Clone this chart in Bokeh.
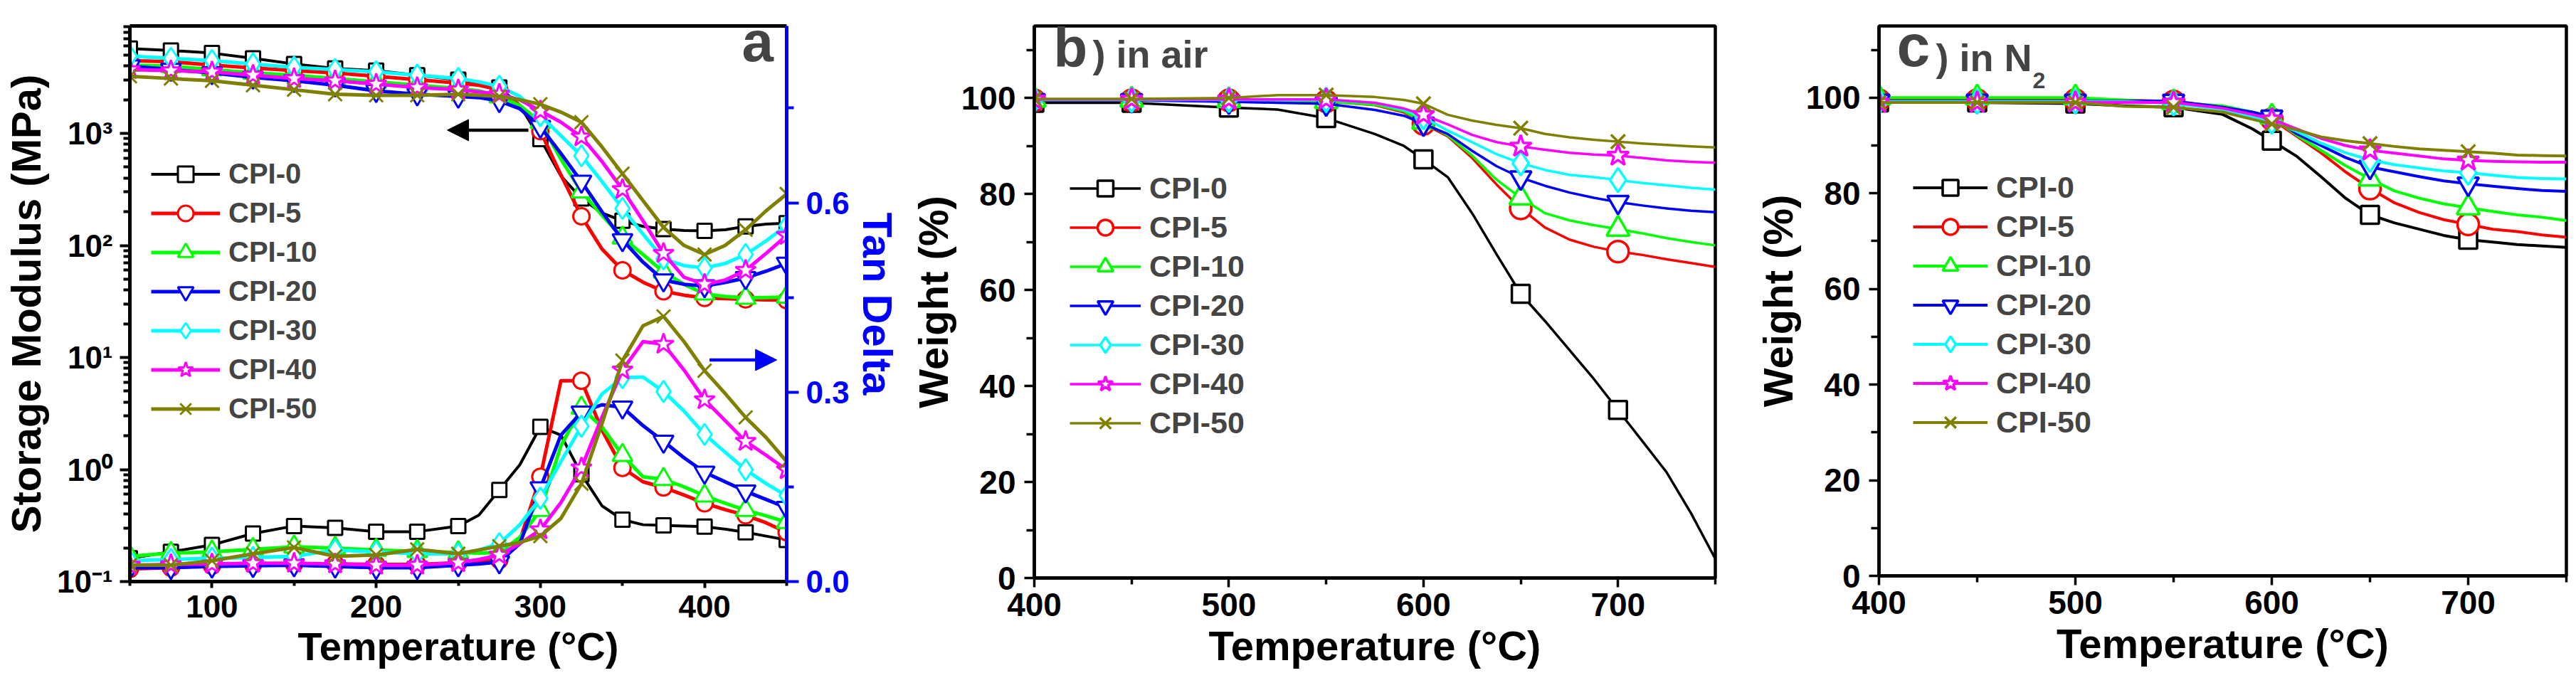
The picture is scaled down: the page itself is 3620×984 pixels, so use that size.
from bokeh.plotting import figure
from bokeh.layouts import row
from bokeh.models import (Range1d, LinearAxis, LinearScale, FixedTicker, Legend, LegendItem,
                          Label, Arrow, NormalHead, CustomJSTickFormatter, NumeralTickFormatter)
from bokeh.embed import file_html
from bokeh.resources import INLINE

FONT = "Liberation Sans"

names = ["CPI-0", "CPI-5", "CPI-10", "CPI-20", "CPI-30", "CPI-40", "CPI-50"]
colors = ["black", "#ff0000", "#00ff00", "#0000ff", "#00ffff", "#ff00ff", "#808000"]
markers = ["square", "circle", "triangle", "inverted_triangle", "diamond", "star", "x"]

# ---- panel a : DMA ----
temp_dma = [50, 75, 100, 125, 150, 175, 200, 225, 250, 262.5, 275, 287.5, 300, 312.5,
            325, 337.5, 350, 362.5, 375, 387.5, 400, 412.5, 425, 437.5, 450]

mod_cpi0 = [5715, 5495, 5212, 4677, 4169, 3802, 3631, 3311, 3020, 2818, 2570, 1778, 891, 417,
            263, 195, 166, 148, 140, 136, 135, 138, 148, 155, 158]
mod_cpi5 = [4467, 4365, 4074, 3846, 3631, 3467, 3236, 3020, 2818, 2692, 2455, 1778, 1047, 427,
            182, 93, 60, 47, 39, 36, 34, 33.5, 33, 32.7, 32.4]
mod_cpi10 = [4074, 3981, 3715, 3467, 3311, 3090, 2884, 2692, 2512, 2399, 2138, 1778, 1259, 589,
             302, 186, 117, 83, 58, 45, 37, 35, 34, 34.3, 34.7]
mod_cpi20 = [3981, 3715, 3467, 3162, 2951, 2692, 2399, 2239, 2138, 2089, 1950, 1660, 1148, 661,
             372, 200, 112, 71, 49, 45, 43.4, 46.8, 51.3, 58.9, 69.2]
mod_cpi30 = [4898, 4677, 4467, 4169, 3890, 3715, 3548, 3311, 3090, 2884, 2630, 2138, 1445, 955,
             631, 372, 214, 126, 76, 66, 63, 69, 83, 110, 151]
mod_cpi40 = [3715, 3631, 3548, 3311, 3090, 2951, 2754, 2570, 2455, 2344, 2239, 1995, 1585, 1259,
             933, 562, 316, 166, 85, 52, 45, 49, 60, 85, 123]
mod_cpi50 = [3236, 3090, 2951, 2692, 2455, 2239, 2188, 2188, 2239, 2188, 2138, 1995, 1820, 1549,
             1259, 759, 437, 251, 145, 100, 83, 100, 138, 204, 288]

tan_cpi0 = [0.037, 0.047, 0.058, 0.076, 0.088, 0.085, 0.079, 0.079, 0.088, 0.105, 0.145, 0.185,
            0.245, 0.232, 0.17, 0.12, 0.098, 0.09, 0.089, 0.088, 0.087, 0.083, 0.078, 0.072, 0.066]
tan_cpi5 = [0.02, 0.022, 0.025, 0.027, 0.028, 0.028, 0.027, 0.027, 0.03, 0.032, 0.034, 0.065,
            0.166, 0.318, 0.318, 0.24, 0.18, 0.158, 0.149, 0.137, 0.124, 0.114, 0.105, 0.093, 0.078]
tan_cpi10 = [0.04, 0.045, 0.047, 0.051, 0.055, 0.053, 0.05, 0.048, 0.046, 0.045, 0.046, 0.07,
             0.113, 0.215, 0.275, 0.245, 0.2, 0.166, 0.162, 0.15, 0.136, 0.124, 0.113, 0.104, 0.094]
tan_cpi20 = [0.022, 0.022, 0.024, 0.025, 0.026, 0.024, 0.022, 0.022, 0.026, 0.028, 0.031, 0.06,
             0.148, 0.232, 0.268, 0.28, 0.276, 0.247, 0.222, 0.196, 0.173, 0.158, 0.143, 0.13, 0.117]
tan_cpi30 = [0.033, 0.035, 0.037, 0.038, 0.04, 0.05, 0.047, 0.044, 0.044, 0.05, 0.06, 0.09,
             0.132, 0.19, 0.246, 0.297, 0.323, 0.324, 0.301, 0.27, 0.233, 0.205, 0.177, 0.155, 0.136]
tan_cpi40 = [0.026, 0.027, 0.028, 0.029, 0.029, 0.028, 0.026, 0.026, 0.03, 0.035, 0.042, 0.06,
             0.082, 0.125, 0.18, 0.26, 0.335, 0.38, 0.376, 0.335, 0.288, 0.255, 0.222, 0.2, 0.177]
tan_cpi50 = [0.026, 0.026, 0.033, 0.044, 0.054, 0.04, 0.042, 0.051, 0.044, 0.05, 0.056, 0.062,
             0.072, 0.1, 0.155, 0.25, 0.35, 0.405, 0.42, 0.38, 0.334, 0.298, 0.26, 0.228, 0.19]

# ---- panels b, c : TGA ----
temp_tga = [400, 450, 500, 525, 550, 575, 590, 600, 612.5, 625, 637.5, 650, 662.5, 675,
            687.5, 700, 712.5, 725, 737.5, 750]

air_cpi0 = [99, 99, 98, 97.6, 95.8, 92.5, 90, 87.2, 83.5, 76, 67.5, 59.2, 53.5, 47.5, 41.5, 35, 28.5, 22, 13.5, 4]
air_cpi5 = [99.5, 99.5, 99.5, 99.5, 99.3, 98.5, 97, 94.6, 92, 87.5, 82, 77, 73, 70.5, 69, 68, 67.3, 66.4, 65.6, 64.8]
air_cpi10 = [99.6, 99.6, 99.5, 99.5, 99.3, 98.6, 97.2, 95, 92.2, 88, 83, 79.2, 76, 74.5, 73.5, 72.7, 71.8, 70.8, 70, 69.3]
air_cpi20 = [99.5, 99.5, 99.2, 99, 98.8, 97.5, 96.3, 94.6, 92.5, 89, 85.8, 83.4, 81.7, 80.3, 79.2, 78.3, 77.6, 77, 76.5, 76.2]
air_cpi30 = [99.6, 99.6, 99.6, 99.6, 99.6, 99, 97.5, 96, 93.2, 90.8, 88.3, 86.4, 85, 84, 83.5, 82.9, 82.3, 81.8, 81.3, 80.9]
air_cpi40 = [99.7, 99.7, 99.7, 99.7, 99.7, 99, 97.8, 96.5, 94.5, 92.3, 90.8, 89.9, 89.2, 88.6, 88.2, 88, 87.5, 87, 86.7, 86.5]
air_cpi50 = [99.8, 99.8, 100, 100.6, 100.6, 100.2, 99.6, 98.8, 96.5, 95.3, 94.4, 93.7, 92.5, 91.8, 91.3, 90.9, 90.5, 90.2, 89.9, 89.7]

n2_cpi0 = [99, 99, 98.8, 98.3, 98, 96.5, 93.5, 91, 87.8, 83.5, 79, 75.5, 73.8, 72.5, 71.2, 70.3, 69.8, 69.3, 69, 68.7]
n2_cpi5 = [99.5, 99.5, 99.5, 99.5, 99.2, 98, 96.5, 95.5, 92, 88.5, 84.5, 81, 78, 76, 74.5, 73.5, 72.5, 72, 71.3, 70.8]
n2_cpi10 = [100, 100, 100, 99.5, 99, 98.3, 97, 96, 92.2, 89, 85.8, 83, 80.5, 79, 77.8, 77, 76.2, 75.5, 75, 74.3]
n2_cpi20 = [99.3, 99.3, 99.3, 99.3, 99.3, 98, 97, 96, 92.5, 90, 87.5, 85.5, 84.5, 83.5, 82.6, 82, 81.5, 81, 80.6, 80.4]
n2_cpi30 = [99.2, 99.2, 99.2, 99.2, 98.8, 97.5, 96, 95, 93, 90.5, 88.5, 87, 86, 85.3, 84.7, 84.3, 83.8, 83.3, 83.1, 83]
n2_cpi40 = [99, 99, 99, 99, 99, 97.8, 96.5, 95.5, 93.5, 91.5, 90, 89, 88.4, 87.8, 87.2, 86.9, 86.7, 86.6, 86.5, 86.5]
n2_cpi50 = [99, 99, 99, 98.2, 98, 97, 95.5, 94.5, 93.3, 91.8, 91, 90.4, 89.8, 89.3, 89, 88.7, 88.4, 88, 87.9, 87.8]

modulus = [mod_cpi0, mod_cpi5, mod_cpi10, mod_cpi20, mod_cpi30, mod_cpi40, mod_cpi50]
tandelta = [tan_cpi0, tan_cpi5, tan_cpi10, tan_cpi20, tan_cpi30, tan_cpi40, tan_cpi50]
air = [air_cpi0, air_cpi5, air_cpi10, air_cpi20, air_cpi30, air_cpi40, air_cpi50]
nitrogen = [n2_cpi0, n2_cpi5, n2_cpi10, n2_cpi20, n2_cpi30, n2_cpi40, n2_cpi50]


def make_fig(xr, yr, fw, fh, left, right, top, bottom, log=False):
    kw = dict(frame_width=fw, frame_height=fh, min_border_left=left, min_border_right=right,
              min_border_top=top, min_border_bottom=bottom, x_range=Range1d(*xr),
              y_range=Range1d(*yr), output_backend="svg", toolbar_location=None)
    if log:
        kw["y_axis_type"] = "log"
    p = figure(**kw)
    p.grid.visible = False
    p.background_fill_color = "white"
    p.border_fill_color = "white"
    return p


def style_axis(ax, lsize, tsize, tick_out, minor_out, lw, color="black", lstand=8, tstand=6):
    ax.axis_line_color = color
    ax.axis_line_width = lw
    ax.major_tick_line_color = color
    ax.minor_tick_line_color = color
    ax.major_tick_line_width = lw - 1
    ax.minor_tick_line_width = lw - 1
    ax.major_tick_in = 0
    ax.minor_tick_in = 0
    ax.major_tick_out = tick_out
    ax.minor_tick_out = minor_out
    ax.major_label_text_font = FONT
    ax.major_label_text_font_style = "bold"
    ax.major_label_text_font_size = f"{lsize}px"
    ax.major_label_text_color = color
    ax.major_label_standoff = lstand
    ax.axis_label_text_font = FONT
    ax.axis_label_text_font_style = "bold"
    ax.axis_label_text_font_size = f"{tsize}px"
    ax.axis_label_text_color = color
    ax.axis_label_standoff = tstand


def add_legend(p, items, loc, gw, size):
    # legend markers are drawn at 0.4 x glyph box, so a tall box with no spacing
    leg = Legend(items=items, location=loc, glyph_width=gw, glyph_height=55, label_height=55,
                 spacing=0, padding=0, margin=0, border_line_color=None,
                 background_fill_alpha=0, label_text_font=FONT, label_text_font_style="bold",
                 label_text_font_size=f"{size}px", label_standoff=12)
    p.add_layout(leg)


# ================= panel a =================
pa = make_fig((50, 450), (0.1, 9100), 923, 781, 179, 170, 28, 160, log=True)
pa.outline_line_color = None
pa.extra_y_ranges = {"tan": Range1d(0, 0.88)}
pa.extra_y_scales = {"tan": LinearScale()}

sizes_a = [20, 23, 28, 28, 30, 30, 27]
items_a = []
for i in range(7):
    lw = 4 if i == 0 else 5
    ml = pa.line(temp_dma, modulus[i], line_color=colors[i], line_width=lw, line_join="round")
    pa.line(temp_dma, tandelta[i], line_color=colors[i], line_width=lw, line_join="round",
            y_range_name="tan")
    mt = [t for t in temp_dma if t % 25 == 0]
    mm = [v for t, v in zip(temp_dma, modulus[i]) if t % 25 == 0]
    md = [v for t, v in zip(temp_dma, tandelta[i]) if t % 25 == 0]
    ms = pa.scatter(mt, mm, marker=markers[i], size=sizes_a[i],
                    line_color=colors[i], fill_color="white", line_width=3)
    pa.scatter(mt, md, marker=markers[i], size=sizes_a[i],
               line_color=colors[i], fill_color="white", line_width=3, y_range_name="tan")
    items_a.append(LegendItem(label=names[i], renderers=[ml, ms]))

xa = pa.xaxis[0]
style_axis(xa, 44, 56, 9, 6, 5, lstand=10, tstand=6)
xa.ticker = FixedTicker(ticks=[100, 200, 300, 400], minor_ticks=[50, 150, 250, 350, 450])
xa.axis_label = "Temperature (°C)"

ya = pa.yaxis[0]
style_axis(ya, 44, 58, 14, 9, 5, lstand=10, tstand=8)
ya.ticker = FixedTicker(ticks=[0.1, 1, 10, 100, 1000],
                        minor_ticks=[k * 10.0 ** e for e in range(-1, 4) for k in range(2, 10)])
ya.formatter = CustomJSTickFormatter(code="""
const e = Math.round(Math.log10(tick));
const sup = {"-1": "\u207b\u00b9", "0": "\u2070", "1": "\u00b9", "2": "\u00b2", "3": "\u00b3"};
return "10" + sup[String(e)];
""")
ya.axis_label = "Storage Modulus (MPa)"

top_a = LinearAxis(ticker=FixedTicker(ticks=[]), major_label_text_font_size="0px",
                   axis_line_width=5, axis_line_color="black")
pa.add_layout(top_a, "above")

ra = LinearAxis(y_range_name="tan", axis_label="Tan Delta")
style_axis(ra, 44, 58, 17, 10, 5, color="#0000ff", lstand=10, tstand=4)
ra.ticker = FixedTicker(ticks=[0, 0.3, 0.6], minor_ticks=[0.15, 0.45, 0.75])
ra.formatter = NumeralTickFormatter(format="0.0")
pa.add_layout(ra, "right")

add_legend(pa, items_a, (30, 215), 97, 40)

pa.add_layout(Label(x=442, y=3467, text="a", text_align="right", text_font=FONT,
                    text_font_style="bold", text_font_size="80px"))
pa.add_layout(Arrow(end=NormalHead(size=30, fill_color="black", line_color="black"),
                    x_start=292.7, y_start=1070, x_end=243.3, y_end=1070,
                    line_width=4.5, line_color="black"))
pa.add_layout(Arrow(end=NormalHead(size=30, fill_color="#0000ff", line_color="#0000ff"),
                    x_start=403, y_start=0.351, x_end=444, y_end=0.351,
                    line_width=4.5, line_color="#0000ff", y_range_name="tan"))


# ================= panels b and c =================
def tga_panel(series, fw, fh, left, right, top, bottom, leg_loc, gw, lw):
    p = make_fig((400, 750), (0, 115), fw, fh, left, right, top, bottom)
    p.outline_line_color = "black"
    p.outline_line_width = 4.5
    sizes = [25, 30, 32, 30, 34, 32, 28]
    items = []
    for i in range(7):
        lr = p.line(temp_tga, series[i], line_color=colors[i], line_width=lw, line_join="round")
        mt = [t for t in temp_tga if t % 50 == 0 and t < 750]
        mv = [v for t, v in zip(temp_tga, series[i]) if t % 50 == 0 and t < 750]
        sr = p.scatter(mt, mv, marker=markers[i], size=sizes[i],
                       line_color=colors[i], fill_color="white", line_width=3.5)
        items.append(LegendItem(label=names[i], renderers=[lr, sr]))
    xax = p.xaxis[0]
    style_axis(xax, 46, 58, 13, 9, 4.5, lstand=8, tstand=6)
    xax.ticker = FixedTicker(ticks=[400, 500, 600, 700], minor_ticks=[450, 550, 650, 750])
    xax.axis_label = "Temperature (°C)"
    yax = p.yaxis[0]
    style_axis(yax, 46, 58, 14, 11, 4.5, lstand=12, tstand=4)
    yax.ticker = FixedTicker(ticks=[0, 20, 40, 60, 80, 100], minor_ticks=[10, 30, 50, 70, 90, 110])
    yax.axis_label = "Weight (%)"
    add_legend(p, items, leg_loc, gw, 43)
    return p


pb = tga_panel(air, 957, 776, 171, 52, 36, 157, (50, 190), 100, 3.5)
pb.add_layout(Label(x=409.9, y=104.0, text="b", text_font=FONT, text_font_style="bold",
                    text_font_size="78px"))
pb.add_layout(Label(x=430, y=104.7, text=") in air", text_font=FONT, text_font_style="bold",
                    text_font_size="54px"))

pc = tga_panel(nitrogen, 966, 773, 157, 29, 31, 165, (48, 188), 105, 4)
pc.add_layout(Label(x=409.1, y=103.9, text="c", text_font=FONT, text_font_style="bold",
                    text_font_size="84px"))
pc.add_layout(Label(x=429, y=103.9, text=") in N", text_font=FONT, text_font_style="bold",
                    text_font_size="54px"))
pc.add_layout(Label(x=478.3, y=102, text="2", text_font=FONT, text_font_style="bold",
                    text_font_size="32px"))

layout = row(pa, pb, pc)
with open("out.html", "w", encoding="utf-8") as f:
    f.write(file_html(layout, INLINE))
